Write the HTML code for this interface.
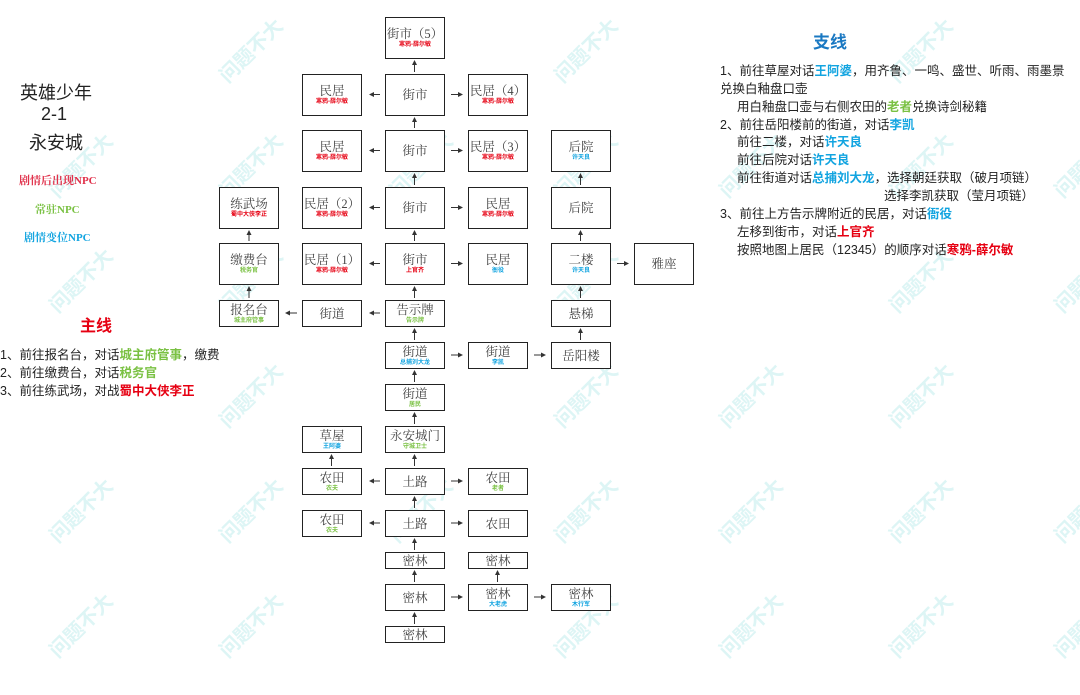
<!DOCTYPE html>
<html><head><meta charset="utf-8"><style>
body{margin:0;width:1080px;height:695px;background:#fff;position:relative;overflow:hidden;font-family:"Liberation Sans","Noto Sans CJK SC",sans-serif}
.b{position:absolute;box-sizing:border-box;border:1.5px solid #222;background:#fff;text-align:center;display:flex;flex-direction:column;justify-content:center;align-items:center;font-family:"Liberation Serif","Noto Serif CJK SC",serif;font-size:12.5px;color:#444;line-height:14px;white-space:nowrap}
.b i{font-style:normal;font-family:"Liberation Sans","Noto Sans CJK SC",sans-serif;font-size:6px;line-height:8px;font-weight:bold}
.t{position:absolute;white-space:nowrap;font-size:12.5px;color:#222}
.r{color:#e60012 !important}.g{color:#7ac143 !important}.c{color:#12a4e0 !important}
.wm{position:absolute;font-size:20px;font-weight:bold;color:rgba(120,215,215,.25);transform:rotate(-45deg);white-space:nowrap;font-family:"Liberation Sans","Noto Sans CJK SC",sans-serif}
svg{position:absolute;left:0;top:0}
</style></head><body>
<div class="wm" style="left:210px;top:35px">问题不大</div>
<div class="wm" style="left:545px;top:35px">问题不大</div>
<div class="wm" style="left:880px;top:35px">问题不大</div>
<div class="wm" style="left:40px;top:150px">问题不大</div>
<div class="wm" style="left:210px;top:150px">问题不大</div>
<div class="wm" style="left:380px;top:150px">问题不大</div>
<div class="wm" style="left:545px;top:150px">问题不大</div>
<div class="wm" style="left:710px;top:150px">问题不大</div>
<div class="wm" style="left:880px;top:150px">问题不大</div>
<div class="wm" style="left:1045px;top:150px">问题不大</div>
<div class="wm" style="left:40px;top:265px">问题不大</div>
<div class="wm" style="left:210px;top:265px">问题不大</div>
<div class="wm" style="left:545px;top:265px">问题不大</div>
<div class="wm" style="left:880px;top:265px">问题不大</div>
<div class="wm" style="left:1045px;top:265px">问题不大</div>
<div class="wm" style="left:210px;top:380px">问题不大</div>
<div class="wm" style="left:545px;top:380px">问题不大</div>
<div class="wm" style="left:710px;top:380px">问题不大</div>
<div class="wm" style="left:880px;top:380px">问题不大</div>
<div class="wm" style="left:40px;top:495px">问题不大</div>
<div class="wm" style="left:210px;top:495px">问题不大</div>
<div class="wm" style="left:380px;top:495px">问题不大</div>
<div class="wm" style="left:545px;top:495px">问题不大</div>
<div class="wm" style="left:710px;top:495px">问题不大</div>
<div class="wm" style="left:880px;top:495px">问题不大</div>
<div class="wm" style="left:1045px;top:495px">问题不大</div>
<div class="wm" style="left:40px;top:610px">问题不大</div>
<div class="wm" style="left:210px;top:610px">问题不大</div>
<div class="wm" style="left:545px;top:610px">问题不大</div>
<div class="wm" style="left:710px;top:610px">问题不大</div>
<div class="wm" style="left:880px;top:610px">问题不大</div>
<div class="wm" style="left:1045px;top:610px">问题不大</div>

<div class="t" style="left:20px;top:79px;font-size:18px">英雄少年</div>
<div class="t" style="left:41px;top:104px;font-size:18px">2-1</div>
<div class="t" style="left:29px;top:129px;font-size:18px">永安城</div>
<div class="t" style="left:19px;top:172px;font-size:11px;font-family:'Liberation Serif','Noto Serif CJK SC',serif;font-weight:bold;color:#e0304a">剧情后出现NPC</div>
<div class="t g" style="left:35px;top:201px;font-size:11px;font-family:'Liberation Serif','Noto Serif CJK SC',serif;font-weight:bold">常驻NPC</div>
<div class="t c" style="left:24px;top:229px;font-size:11px;font-family:'Liberation Serif','Noto Serif CJK SC',serif;font-weight:bold">剧情变位NPC</div>
<div class="t r" style="left:80px;top:312px;font-size:16px;font-weight:bold">主线</div>
<div class="t" style="left:0;top:344px">1、前往报名台，对话<b class="g">城主府管事</b>，缴费</div>
<div class="t" style="left:0;top:362px">2、前往缴费台，对话<b class="g">税务官</b></div>
<div class="t" style="left:0;top:380px">3、前往练武场，对战<b class="r">蜀中大侠李正</b></div>

<div class="t" style="left:813px;top:28px;font-size:17px;font-weight:bold;color:#1a78c2">支线</div>
<div class="t" style="left:720px;top:60px">1、前往草屋对话<b class="c">王阿婆</b>，用齐鲁、一鸣、盛世、听雨、雨墨景</div>
<div class="t" style="left:720px;top:78px">兑换白釉盘口壶</div>
<div class="t" style="left:737px;top:96px">用白釉盘口壶与右侧农田的<b class="g">老者</b>兑换诗剑秘籍</div>
<div class="t" style="left:720px;top:114px">2、前往岳阳楼前的街道，对话<b class="c">李凯</b></div>
<div class="t" style="left:737px;top:131px">前往二楼，对话<b class="c">许天良</b></div>
<div class="t" style="left:737px;top:149px">前往后院对话<b class="c">许天良</b></div>
<div class="t" style="left:737px;top:167px">前往街道对话<b class="c">总捕刘大龙</b>，选择朝廷获取（破月项链）</div>
<div class="t" style="left:884px;top:185px">选择李凯获取（莹月项链）</div>
<div class="t" style="left:720px;top:203px">3、前往上方告示牌附近的民居，对话<b class="c">衙役</b></div>
<div class="t" style="left:737px;top:221px">左移到街市，对话<b class="r">上官齐</b></div>
<div class="t" style="left:737px;top:239px">按照地图上居民（12345）的顺序对话<b class="r">寒鸦-薛尔敏</b></div>

<svg width="1080" height="695">
<defs><marker id="a" markerWidth="5" markerHeight="5" refX="4" refY="2.5" orient="auto"><path d="M0,0L5,2.5L0,5z" fill="#333"/></marker></defs>
<g stroke="#333" stroke-width="1" marker-end="url(#a)">
<line x1="414.5" y1="72" x2="414.5" y2="61"/>
<line x1="414.5" y1="128" x2="414.5" y2="118"/>
<line x1="414.5" y1="185" x2="414.5" y2="174"/>
<line x1="414.5" y1="241" x2="414.5" y2="231"/>
<line x1="414.5" y1="298" x2="414.5" y2="287"/>
<line x1="414.5" y1="340" x2="414.5" y2="329"/>
<line x1="414.5" y1="382" x2="414.5" y2="371"/>
<line x1="414.5" y1="424" x2="414.5" y2="413"/>
<line x1="414.5" y1="466" x2="414.5" y2="455"/>
<line x1="414.5" y1="508" x2="414.5" y2="497"/>
<line x1="414.5" y1="550" x2="414.5" y2="539"/>
<line x1="414.5" y1="582" x2="414.5" y2="571"/>
<line x1="414.5" y1="624" x2="414.5" y2="613"/>
<line x1="249" y1="241" x2="249" y2="231"/>
<line x1="249" y1="298" x2="249" y2="287"/>
<line x1="580.5" y1="185" x2="580.5" y2="174"/>
<line x1="580.5" y1="241" x2="580.5" y2="231"/>
<line x1="580.5" y1="298" x2="580.5" y2="287"/>
<line x1="580.5" y1="340" x2="580.5" y2="329"/>
<line x1="331.5" y1="466" x2="331.5" y2="455"/>
<line x1="497.5" y1="582" x2="497.5" y2="571"/>
<line x1="380" y1="94.5" x2="370" y2="94.5"/><line x1="451" y1="94.5" x2="462" y2="94.5"/>
<line x1="380" y1="150.5" x2="370" y2="150.5"/><line x1="451" y1="150.5" x2="462" y2="150.5"/>
<line x1="380" y1="207.5" x2="370" y2="207.5"/><line x1="451" y1="207.5" x2="462" y2="207.5"/>
<line x1="380" y1="263.5" x2="370" y2="263.5"/><line x1="451" y1="263.5" x2="462" y2="263.5"/>
<line x1="617" y1="263.5" x2="628" y2="263.5"/>
<line x1="380" y1="313" x2="370" y2="313"/><line x1="297" y1="313" x2="286" y2="313"/>
<line x1="451" y1="355" x2="462" y2="355"/><line x1="534" y1="355" x2="545" y2="355"/>
<line x1="380" y1="481" x2="370" y2="481"/><line x1="451" y1="481" x2="462" y2="481"/>
<line x1="380" y1="523" x2="370" y2="523"/><line x1="451" y1="523" x2="462" y2="523"/>
<line x1="451" y1="597" x2="462" y2="597"/><line x1="534" y1="597" x2="545" y2="597"/>
</g></svg>

<div class="b" style="left:385px;top:17px;width:60px;height:42px">街市（5）<i class="r">寒鸦-薛尔敏</i></div>
<div class="b" style="left:302px;top:74px;width:60px;height:42px">民居<i class="r">寒鸦-薛尔敏</i></div>
<div class="b" style="left:385px;top:74px;width:60px;height:42px">街市</div>
<div class="b" style="left:468px;top:74px;width:60px;height:42px">民居（4）<i class="r">寒鸦-薛尔敏</i></div>
<div class="b" style="left:302px;top:130px;width:60px;height:42px">民居<i class="r">寒鸦-薛尔敏</i></div>
<div class="b" style="left:385px;top:130px;width:60px;height:42px">街市</div>
<div class="b" style="left:468px;top:130px;width:60px;height:42px">民居（3）<i class="r">寒鸦-薛尔敏</i></div>
<div class="b" style="left:551px;top:130px;width:60px;height:42px">后院<i class="c">许天良</i></div>
<div class="b" style="left:219px;top:187px;width:60px;height:42px">练武场<i class="r">蜀中大侠李正</i></div>
<div class="b" style="left:302px;top:187px;width:60px;height:42px">民居（2）<i class="r">寒鸦-薛尔敏</i></div>
<div class="b" style="left:385px;top:187px;width:60px;height:42px">街市</div>
<div class="b" style="left:468px;top:187px;width:60px;height:42px">民居<i class="r">寒鸦-薛尔敏</i></div>
<div class="b" style="left:551px;top:187px;width:60px;height:42px">后院</div>
<div class="b" style="left:219px;top:243px;width:60px;height:42px">缴费台<i class="g">税务官</i></div>
<div class="b" style="left:302px;top:243px;width:60px;height:42px">民居（1）<i class="r">寒鸦-薛尔敏</i></div>
<div class="b" style="left:385px;top:243px;width:60px;height:42px">街市<i class="r">上官齐</i></div>
<div class="b" style="left:468px;top:243px;width:60px;height:42px">民居<i class="c">衙役</i></div>
<div class="b" style="left:551px;top:243px;width:60px;height:42px">二楼<i class="c">许天良</i></div>
<div class="b" style="left:634px;top:243px;width:60px;height:42px">雅座</div>
<div class="b" style="left:219px;top:300px;width:60px;height:27px">报名台<i class="g">城主府管事</i></div>
<div class="b" style="left:302px;top:300px;width:60px;height:27px">街道</div>
<div class="b" style="left:385px;top:300px;width:60px;height:27px">告示牌<i class="g">告示牌</i></div>
<div class="b" style="left:551px;top:300px;width:60px;height:27px">悬梯</div>
<div class="b" style="left:385px;top:342px;width:60px;height:27px">街道<i class="c">总捕刘大龙</i></div>
<div class="b" style="left:468px;top:342px;width:60px;height:27px">街道<i class="c">李凯</i></div>
<div class="b" style="left:551px;top:342px;width:60px;height:27px">岳阳楼</div>
<div class="b" style="left:385px;top:384px;width:60px;height:27px">街道<i class="g">居民</i></div>
<div class="b" style="left:302px;top:426px;width:60px;height:27px">草屋<i class="c">王阿婆</i></div>
<div class="b" style="left:385px;top:426px;width:60px;height:27px">永安城门<i class="g">守城卫士</i></div>
<div class="b" style="left:302px;top:468px;width:60px;height:27px">农田<i class="g">农夫</i></div>
<div class="b" style="left:385px;top:468px;width:60px;height:27px">土路</div>
<div class="b" style="left:468px;top:468px;width:60px;height:27px">农田<i class="g">老者</i></div>
<div class="b" style="left:302px;top:510px;width:60px;height:27px">农田<i class="g">农夫</i></div>
<div class="b" style="left:385px;top:510px;width:60px;height:27px">土路</div>
<div class="b" style="left:468px;top:510px;width:60px;height:27px">农田</div>
<div class="b" style="left:385px;top:552px;width:60px;height:17px">密林</div>
<div class="b" style="left:468px;top:552px;width:60px;height:17px">密林</div>
<div class="b" style="left:385px;top:584px;width:60px;height:27px">密林</div>
<div class="b" style="left:468px;top:584px;width:60px;height:27px">密林<i class="c">大老虎</i></div>
<div class="b" style="left:551px;top:584px;width:60px;height:27px">密林<i class="c">木行军</i></div>
<div class="b" style="left:385px;top:626px;width:60px;height:17px">密林</div>
</body></html>
